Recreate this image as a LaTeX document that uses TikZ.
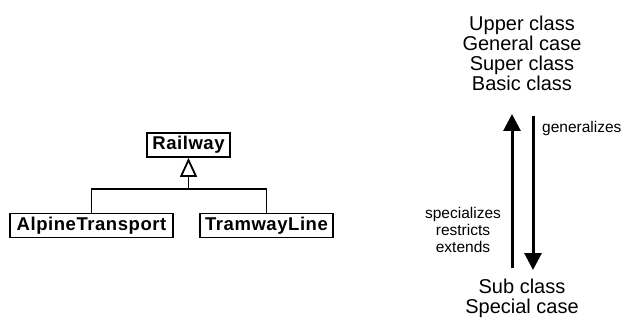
\documentclass[tikz,border=0pt]{standalone}
\usepackage{fontspec}
\setmainfont{Liberation Sans}
\usetikzlibrary{arrows.meta}
\begin{document}
\begin{tikzpicture}[x=1pt,y=-1pt,
  classbox/.style={draw, line width=1.8pt, inner sep=0pt, minimum height=24pt,
    font=\fontsize{18.5}{20}\selectfont\bfseries\addfontfeatures{LetterSpace=3}},
  biglabel/.style={align=center, inner sep=0pt, font=\fontsize{20}{20}\selectfont},
  smalllabel/.style={align=center, inner sep=0pt, font=\fontsize{15.5}{17}\selectfont},
  inherit/.style={line width=1.8pt},
  bigarrow/.style={line width=3pt, -{Triangle[length=17pt,width=17pt]}}]
\useasboundingbox (0,0) rectangle (625,329);

% class hierarchy
\node[classbox, minimum width=83pt] (railway) at (188.5,145) {Railway};
\node[classbox, minimum width=163pt] (alpine) at (91.5,225.5) {AlpineTransport};
\node[classbox, minimum width=133pt] (tramway) at (266.5,225.5) {TramwayLine};
\coordinate (join) at (188.5,189);
\draw[inherit, -{Triangle[open,length=19pt,width=17pt]}] (join) -- (railway.south);
\draw[inherit] (alpine.north) |- (join) -| (tramway.north);

% terminology
\node[biglabel] (upper) at (522,53) {Upper class\\General case\\Super class\\Basic class};
\node[biglabel] (lower) at (522,298) {Sub class\\Special case};
\coordinate (upfrom) at (512,268);
\coordinate (upto) at (512,114);
\coordinate (downfrom) at (533,116);
\coordinate (downto) at (533,270);
\draw[bigarrow] (upfrom) -- (upto);
\draw[bigarrow] (downfrom) -- (downto);
\node[smalllabel, anchor=west] (gen) at (542,128) {generalizes};
\node[smalllabel] (spec) at (463,230) {specializes\\restricts\\extends};
\end{tikzpicture}
\end{document}
